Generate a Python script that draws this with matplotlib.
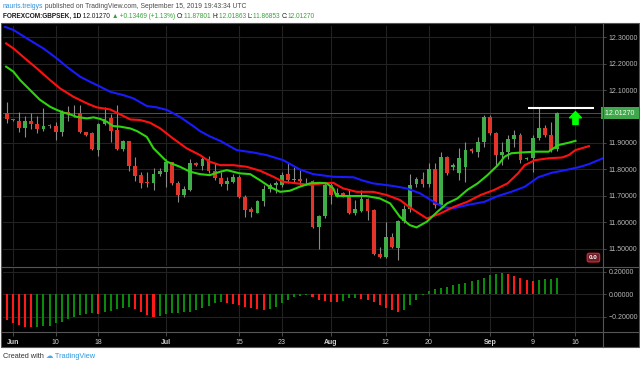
import matplotlib.pyplot as plt
import numpy as np
from matplotlib.lines import Line2D
from matplotlib.patches import Rectangle

plt.rcParams['font.family'] = ['Liberation Sans', 'DejaVu Sans']

# ---- daily candles (FOREXCOM:GBPSEK, 1D), bar 0 = 2019-05-31, last = 2019-09-13
opens = [12.014, 11.990, 11.983, 11.958, 11.983, 11.972, 11.953, 11.966, 11.964, 11.942,
         12.016, 12.012, 12.014, 11.940, 11.936, 11.873, 11.972, 11.993, 11.949, 11.877,
         11.908, 11.812, 11.778, 11.752, 11.747, 11.781, 11.791, 11.827, 11.749, 11.703,
         11.722, 11.823, 11.813, 11.838, 11.795, 11.766, 11.743, 11.753, 11.772, 11.696,
         11.648, 11.636, 11.680, 11.724, 11.741, 11.741, 11.781, 11.760, 11.762, 11.758,
         11.757, 11.583, 11.623, 11.741, 11.699, 11.711, 11.696, 11.636, 11.643, 11.686,
         11.646, 11.479, 11.467, 11.542, 11.501, 11.605, 11.648, 11.744, 11.765, 11.745,
         11.800, 11.665, 11.848, 11.808, 11.785, 11.810, 11.876, 11.867, 11.905, 11.999,
         11.936, 11.854, 11.867, 11.914, 11.930, 11.840, 11.842, 11.917, 11.955, 11.930,
         11.87801]
highs = [12.056, 11.992, 12.018, 12.002, 12.012, 12.002, 12.032, 11.970, 11.980, 12.025,
         12.040, 12.044, 12.044, 11.942, 11.940, 11.977, 12.037, 12.009, 12.044, 11.910,
         11.908, 11.848, 11.791, 11.791, 11.804, 11.804, 11.838, 11.829, 11.757, 11.737,
         11.838, 11.827, 11.848, 11.849, 11.823, 11.791, 11.772, 11.782, 11.778, 11.703,
         11.656, 11.684, 11.741, 11.747, 11.757, 11.791, 11.823, 11.810, 11.797, 11.766,
         11.759, 11.627, 11.753, 11.753, 11.728, 11.715, 11.722, 11.684, 11.722, 11.690,
         11.648, 11.507, 11.601, 11.558, 11.608, 11.665, 11.782, 11.770, 11.790, 11.823,
         11.823, 11.867, 11.852, 11.823, 11.880, 11.905, 11.880, 11.924, 12.005, 12.005,
         11.942, 11.905, 11.930, 11.949, 11.936, 11.848, 11.930, 12.031, 11.968, 11.980,
         12.01863]
lows = [11.974, 11.984, 11.942, 11.923, 11.951, 11.936, 11.946, 11.958, 11.911, 11.926,
        11.984, 11.999, 11.936, 11.925, 11.873, 11.850, 11.967, 11.905, 11.873, 11.868,
        11.795, 11.757, 11.728, 11.734, 11.722, 11.776, 11.732, 11.741, 11.677, 11.694,
        11.719, 11.811, 11.797, 11.788, 11.760, 11.737, 11.722, 11.747, 11.691, 11.618,
        11.618, 11.633, 11.661, 11.715, 11.709, 11.734, 11.747, 11.747, 11.741, 11.741,
        11.577, 11.497, 11.614, 11.669, 11.694, 11.694, 11.631, 11.627, 11.639, 11.608,
        11.475, 11.463, 11.463, 11.501, 11.456, 11.596, 11.639, 11.735, 11.735, 11.734,
        11.655, 11.654, 11.777, 11.797, 11.759, 11.753, 11.863, 11.848, 11.886, 11.930,
        11.816, 11.816, 11.840, 11.886, 11.823, 11.835, 11.791, 11.911, 11.924, 11.867,
        11.86853]
closes = [11.989, 11.986, 11.958, 11.983, 11.970, 11.954, 11.965, 11.964, 11.942, 12.018,
          12.013, 12.015, 11.940, 11.930, 11.876, 11.972, 11.989, 11.946, 11.877, 11.908,
          11.813, 11.776, 11.749, 11.748, 11.782, 11.795, 11.829, 11.747, 11.703, 11.724,
          11.823, 11.815, 11.838, 11.795, 11.766, 11.743, 11.756, 11.772, 11.694, 11.646,
          11.637, 11.680, 11.724, 11.741, 11.747, 11.778, 11.759, 11.763, 11.757, 11.761,
          11.583, 11.623, 11.741, 11.703, 11.711, 11.696, 11.636, 11.648, 11.686, 11.643,
          11.479, 11.467, 11.542, 11.505, 11.605, 11.648, 11.741, 11.765, 11.745, 11.800,
          11.665, 11.848, 11.785, 11.816, 11.842, 11.873, 11.868, 11.905, 11.999, 11.936,
          11.854, 11.867, 11.914, 11.930, 11.835, 11.843, 11.917, 11.955, 11.930, 11.873,
          12.01270]

# ---- Alligator lines (read points: bar position, price)
jaw_x = [-0.3, 1.1, 3.3, 6.0, 8.2, 9.8, 12.0, 13.6, 15.3, 16.9, 19.1, 20.7, 22.9, 24.5,
         26.2, 28.3, 30.5, 31.6, 33.2, 34.9, 37.6, 40.3, 42.5, 45.2, 47.9, 50.1, 53.4,
         56.7, 58.3, 59.9, 63.2, 65.4, 67.6, 69.8, 71.5, 73.1, 75.3, 78.1, 80.3, 82.5,
         84.7, 86.9, 89.1, 91.3, 93.5, 95.2, 97.6]
jaw_y = [12.340, 12.328, 12.296, 12.258, 12.220, 12.189, 12.151, 12.132, 12.113, 12.094,
         12.081, 12.069, 12.040, 12.035, 12.025, 11.999, 11.964, 11.945, 11.925, 11.908,
         11.873, 11.864, 11.854, 11.835, 11.800, 11.782, 11.772, 11.770, 11.757, 11.747,
         11.737, 11.728, 11.709, 11.677, 11.656, 11.653, 11.665, 11.677, 11.699, 11.715,
         11.734, 11.770, 11.787, 11.797, 11.808, 11.820, 11.843]
teeth_x = [-0.1, 1.1, 3.0, 4.9, 7.1, 8.7, 10.9, 13.1, 14.7, 15.8, 16.9, 18.5, 20.2, 21.8,
           23.4, 25.1, 27.2, 29.4, 31.6, 33.2, 34.9, 37.0, 39.2, 41.4, 43.6, 45.2, 47.4,
           49.6, 51.7, 53.4, 55.0, 57.2, 59.9, 62.1, 64.3, 65.9, 68.7, 70.9, 73.1, 75.3,
           77.5, 79.7, 81.9, 83.6, 84.7, 86.4, 88.6, 90.8, 91.9, 93.0, 95.2]
teeth_y = [12.277, 12.258, 12.220, 12.183, 12.138, 12.107, 12.075, 12.050, 12.035, 12.031,
           12.027, 12.009, 11.989, 11.987, 11.977, 11.955, 11.917, 11.880, 11.854, 11.829,
           11.816, 11.816, 11.810, 11.795, 11.772, 11.753, 11.747, 11.741, 11.747, 11.749,
           11.728, 11.715, 11.715, 11.703, 11.684, 11.656, 11.614, 11.633, 11.658, 11.677,
           11.703, 11.722, 11.747, 11.785, 11.816, 11.835, 11.842, 11.845, 11.854, 11.873,
           11.888]
lips_x = [-0.1, 1.1, 2.2, 3.8, 5.4, 7.1, 8.2, 9.3, 10.4, 11.4, 13.1, 14.2, 15.3, 16.4,
          17.4, 18.5, 20.2, 21.3, 22.9, 24.0, 26.2, 28.3, 30.0, 31.6, 33.2, 34.9, 36.0,
          38.1, 39.8, 41.4, 43.0, 44.7, 46.3, 47.9, 49.6, 51.2, 52.3, 53.4, 53.9, 56.7,
          58.8, 61.0, 62.7, 64.3, 65.9, 67.0, 68.7, 70.4, 72.0, 73.7, 75.3, 77.0, 78.6,
          80.3, 81.4, 82.5, 84.2, 86.4, 88.6, 90.2, 91.9, 93.0]
lips_y = [12.189, 12.170, 12.138, 12.101, 12.064, 12.037, 12.025, 12.015, 12.008, 11.999,
          11.993, 11.997, 11.991, 11.980, 11.964, 11.962, 11.955, 11.945, 11.923, 11.880,
          11.829, 11.810, 11.791, 11.782, 11.778, 11.791, 11.797, 11.785, 11.782, 11.759,
          11.734, 11.715, 11.719, 11.734, 11.747, 11.749, 11.747, 11.728, 11.699, 11.699,
          11.699, 11.690, 11.671, 11.620, 11.589, 11.580, 11.602, 11.639, 11.671, 11.690,
          11.722, 11.747, 11.778, 11.816, 11.848, 11.861, 11.864, 11.867, 11.867, 11.892,
          11.901, 11.908]

# ---- Awesome Oscillator histogram
ao = [-0.228, -0.252, -0.273, -0.290, -0.293, -0.288, -0.282, -0.279, -0.258, -0.249,
      -0.222, -0.204, -0.184, -0.172, -0.163, -0.175, -0.154, -0.145, -0.131, -0.119,
      -0.116, -0.133, -0.154, -0.184, -0.199, -0.196, -0.178, -0.169, -0.163, -0.160,
      -0.154, -0.140, -0.125, -0.101, -0.075, -0.072, -0.080, -0.086, -0.095, -0.110,
      -0.125, -0.133, -0.142, -0.131, -0.116, -0.080, -0.051, -0.027, -0.012, -0.006,
      -0.021, -0.051, -0.059, -0.065, -0.071, -0.059, -0.036, -0.035, -0.042, -0.050,
      -0.071, -0.095, -0.119, -0.142, -0.157, -0.136, -0.095, -0.050, -0.006, 0.030,
      0.047, 0.053, 0.068, 0.083, 0.095, 0.104, 0.118, 0.127, 0.148, 0.172,
      0.181, 0.187, 0.181, 0.163, 0.148, 0.127, 0.121, 0.127, 0.136, 0.139,
      0.148]

tick_bars = [1, 8, 15, 26, 38, 45, 53, 62, 69, 79, 86, 93]
tick_labels = ['Jun', '10', '18', 'Jul', '15', '23', 'Aug', '12', '20', 'Sep', '9', '16']
months = {'Jun', 'Jul', 'Aug', 'Sep'}

last_price = 12.01270
resistance = 12.031
price_ticks = [11.5, 11.6, 11.7, 11.8, 11.9, 12.0, 12.1, 12.2, 12.3]
ao_ticks = [0.2, 0.0, -0.2]

UP, DOWN, WICK = '#3fae49', '#e3342a', '#8a8a8a'
GRID = '#222222'
FRAME = '#555555'

# ---- figure layout in pixels
W, H = 640, 367
def fx(px):
    return px / W
def fy(py):
    return 1 - py / H

fig = plt.figure(figsize=(6.4, 3.67), dpi=100)
fig.patches.append(Rectangle((fx(1), fy(347)), fx(638), 324 / H, transform=fig.transFigure,
                             fc='black', ec=FRAME, lw=0.8, zorder=-10))

ax = fig.add_axes([fx(3.3), fy(266), fx(599.7), 240 / H])
ax2 = fig.add_axes([fx(3.3), fy(332), fx(599.7), 65 / H], sharex=ax)

for a in (ax, ax2):
    a.set_facecolor('black')
    for s in a.spines.values():
        s.set_visible(False)
    a.grid(True, color=GRID, lw=0.8)
    a.set_axisbelow(True)
    a.yaxis.tick_right()

x = np.arange(len(opens))
o, h, l, c = map(np.array, (opens, highs, lows, closes))
up = c >= o

# candles
ax.vlines(x, l, h, color=WICK, lw=0.8, zorder=2)
body = np.maximum(np.abs(c - o), 0.0025)
ax.bar(x, body, bottom=np.minimum(o, c), width=0.62,
       color=np.where(up, UP, DOWN), zorder=3)

# alligator
ax.plot(jaw_x, jaw_y, color='#1a1aff', lw=1.5, zorder=4)
ax.plot(teeth_x, teeth_y, color='#ff1010', lw=1.5, zorder=4)
ax.plot(lips_x, lips_y, color='#2ed40e', lw=1.5, zorder=4)

ax.axhline(last_price, color='#2c6a30', lw=0.7, zorder=1)
ax.hlines(resistance, 85.2, 96.0, color='white', lw=1.5, zorder=5)
ax.annotate('', xy=(93, 12.019), xytext=(93, 11.970),
            arrowprops=dict(arrowstyle='simple,head_width=0.85,head_length=0.45,tail_width=0.38',
                            color='#00ff00', mutation_scale=10, shrinkA=0, shrinkB=0),
            zorder=6)

ax.set_xlim(-0.56, 97.5)
ax.set_ylim(11.434, 12.343)
ax.set_yticks(price_ticks)
# the 12.00000 label sits under the last-price marker
ax.set_yticklabels(['' if abs(v - 12.0) < 1e-9 else f'{v:.5f}' for v in price_ticks])
ax.tick_params(axis='y', colors=FRAME, labelcolor='#b8b8b8', labelsize=5, length=2,
               width=0.6, pad=2)
ax.tick_params(axis='x', length=0, labelbottom=False)

ax.text(1.0, last_price, ' 12.01270 ', transform=ax.get_yaxis_transform(), fontsize=5,
        color='white', va='center', ha='left', clip_on=False, zorder=10,
        bbox=dict(boxstyle='square,pad=0.35', fc='#3fa84a', ec='none'))
ax.text(0.984, 0.035, '0.0', transform=ax.transAxes, fontsize=4.5, color='white',
        fontweight='bold', ha='center', va='center', zorder=6,
        bbox=dict(boxstyle='round,pad=0.3', fc='#6e1c28', ec='#e02a2a', lw=0.8))

# oscillator
ao_arr = np.array(ao)
rising = np.r_[False, ao_arr[1:] > ao_arr[:-1]]
ax2.bar(x, ao_arr, width=0.33, color=np.where(rising, '#0a8a0a', '#ff1a1a'), zorder=3)
ax2.set_ylim(-0.335, 0.243)
ax2.set_yticks(ao_ticks)
ax2.set_yticklabels(['0.20000', '0.00000', '\u22120.20000'])
ax2.tick_params(axis='y', colors=FRAME, labelcolor='#b8b8b8', labelsize=5, length=2,
                width=0.6, pad=2)
ax2.set_xticks(tick_bars)
ax2.set_xticklabels(tick_labels)
ax2.tick_params(axis='x', colors=FRAME, labelcolor='#d0d0d0', labelsize=5, length=3,
                width=0.6, pad=2)
for t in ax2.get_xticklabels():
    if t.get_text() in months:
        t.set_fontweight('bold')

# frame lines
for (x0, y0, x1, y1) in [(1, 266.5, 639, 266.5), (1, 332, 639, 332), (603, 23, 603, 347)]:
    fig.lines.append(Line2D([fx(x0), fx(x1)], [fy(y0), fy(y1)], transform=fig.transFigure,
                            color=FRAME, lw=0.8))

# header / footer text
renderer = fig.canvas.get_renderer()
def row(parts, px, py, size):
    xf = fx(px)
    for s, col, wt in parts:
        t = fig.text(xf, fy(py), s, color=col, fontsize=size, fontweight=wt,
                     ha='left', va='center')
        xf += t.get_window_extent(renderer=renderer).width / fig.bbox.width

G, K = '#36a336', '#1a1a1a'
row([('nauris.treigys', '#2f8fd8', 'normal'),
     (' published on TradingView.com, September 15, 2019 19:43:34 UTC', '#4a4a4a', 'normal')],
    3, 6.5, 4.9)
row([('FOREXCOM:GBPSEK, 1D', K, 'bold'), (' 12.01270 ', K, 'normal'), ('\u25b2', G, 'normal'),
     (' +0.13469 (+1.13%) ', G, 'normal'), ('O:', K, 'normal'), ('11.87801 ', G, 'normal'),
     ('H:', K, 'normal'), ('12.01863 ', G, 'normal'), ('L:', K, 'normal'),
     ('11.86853 ', G, 'normal'), ('C:', K, 'normal'), ('12.01270', G, 'normal')],
    3, 16.5, 4.7)
row([('Created with ', '#333333', 'normal'), ('\u2601', '#4aa8e6', 'normal'),
     (' TradingView', '#2a9be0', 'normal')], 3, 357, 5.3)

fig.savefig('out.png', dpi=100, facecolor='white')
